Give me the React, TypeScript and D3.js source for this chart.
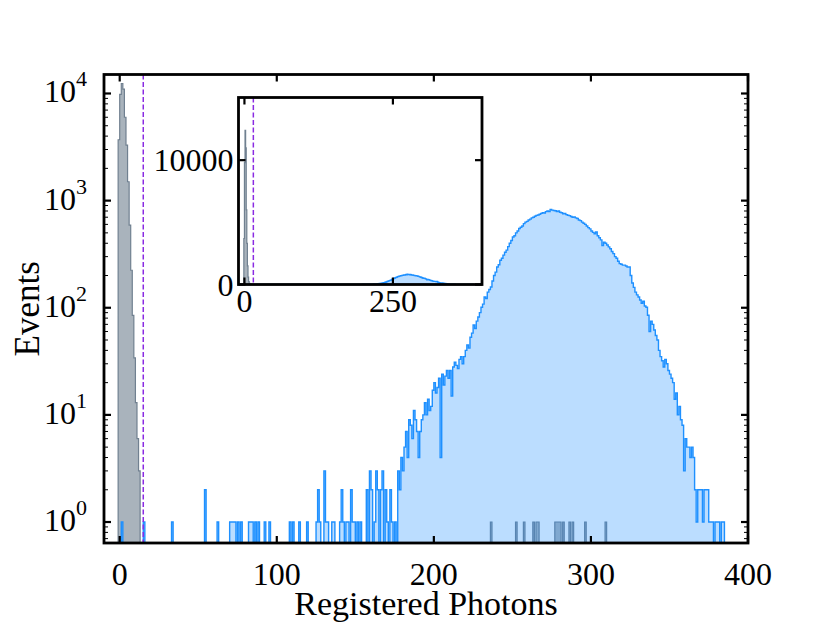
import React from 'react';
import * as d3 from 'd3';

const W = 830;
const H = 623;

// Noise (gray) histogram: integer bins [k, k+1)
const grayBins = [-1, 0, 1, 2, 3, 4, 5, 6, 7, 8, 9, 10, 11, 12,
  236, 252, 257, 263, 265, 266, 277, 278, 279, 280, 282, 286, 288, 296, 309];
const grayCounts = [3700, 9800, 12400, 11000, 6000, 3300, 1500, 590, 224, 85, 34, 13, 6, 3,
  1, 1, 1, 1, 1, 1, 1, 1, 1, 1, 1, 1, 1, 1, 1];

// Signal (blue) histogram: sparse low-photon bins
const blueSparseBins = [1, 15, 33, 54, 62, 70, 71, 72, 73, 75, 77, 82, 83, 84, 86, 88, 92, 95,
  108, 110, 114, 119, 125, 126, 127, 130, 131, 132, 135, 136, 140, 141, 142, 144, 145, 147,
  148, 149, 151, 153];
const blueSparseCounts = [1, 1, 1, 2, 1, 1, 1, 1, 1, 1, 1, 1, 1, 1, 1, 1, 1, 1,
  1, 1, 1, 1, 1, 2, 1, 3, 1, 1, 1, 1, 1, 2, 1, 1, 1, 2,
  1, 1, 1, 1];
// Signal (blue) histogram: dense part, bins 155 .. 384
const blueDenseStart = 155;
const blueDenseCounts = [
  0, 0, 2, 0, 3, 2, 0, 1, 3, 2,
  0, 2, 3, 0, 2, 1, 0, 2, 1, 0,
  1, 0, 3, 2, 4, 3, 5, 7, 4, 9,
  8, 6, 11, 9, 7, 4, 7, 9, 10, 13,
  10, 14, 11, 12, 17, 20, 16, 18, 22, 4,
  24, 19, 23, 26, 22, 26, 15, 28, 31, 29,
  27, 33, 35, 30, 35, 40, 45, 42, 53, 58,
  69, 64, 75, 82, 90, 101, 108, 126, 122, 140,
  148, 156, 178, 200, 215, 240, 252, 278, 290, 310,
  330, 345, 372, 400, 425, 457, 470, 500, 520, 550,
  565, 580, 610, 630, 640, 660, 672, 690, 700, 715,
  728, 735, 745, 760, 770, 765, 790, 800, 790, 825,
  815, 810, 805, 790, 800, 780, 770, 755, 760, 740,
  730, 725, 710, 700, 705, 690, 680, 660, 650, 630,
  615, 600, 580, 560, 545, 520, 505, 490, 510, 470,
  450, 430, 380, 410, 400, 385, 370, 355, 335, 320,
  300, 290, 272, 258, 255, 250, 250, 245, 240, 240,
  200, 170, 155, 140, 132, 126, 118, 110, 115, 104,
  101, 85, 60, 75, 70, 62, 55, 50, 40, 35,
  32, 28, 33, 30, 26, 24, 22, 20, 14, 16,
  10, 12, 9, 8, 3, 6, 5, 5, 4, 5,
  4, 2, 1, 2, 2, 2, 1, 2, 2, 2,
  1, 1, 1, 0, 1, 1, 1, 0, 1, 1,
];

const threshold = 15;
const xTicks = [0, 100, 200, 300, 400];
const yTickValues = [1, 10, 100, 1000, 10000];
const yTickExponents = ['0', '1', '2', '3', '4'];
const insetXTicks = [0, 250];
const insetYTicks = [0, 10000];

const FONT = "'Liberation Serif', 'Times New Roman', 'DejaVu Serif', serif";
const GRAY = '#708090';
const BLUE = '#1e90ff';
const PURPLE = '#8a2be2';

const blueBins = [...blueSparseBins, ...blueDenseCounts.map((_, i) => blueDenseStart + i)];
const blueCounts = [...blueSparseCounts, ...blueDenseCounts];

function stepPath(bins: number[], counts: number[], xs: (v: number) => number,
  ys: (v: number) => number, floor: number): string {
  const m = new Map<number, number>();
  bins.forEach((b, i) => m.set(b, (m.get(b) || 0) + counts[i]));
  const lo = d3.min(bins) as number;
  const hi = d3.max(bins) as number;
  let p = `M${xs(lo)},${floor}`;
  for (let b = lo; b <= hi; b++) {
    const c = m.get(b) || 0;
    const yy = c > 0 ? ys(c) : floor;
    p += `L${xs(b)},${yy}L${xs(b + 1)},${yy}`;
  }
  p += `L${xs(hi + 1)},${floor}Z`;
  return p;
}

export default function App() {
  const L = 104, R = 748, T = 74.5, B = 543;
  const x = d3.scaleLinear().domain([-10, 400]).range([L, R]);
  const y = d3.scaleLog().domain([0.637, 15040]).range([B, T]);

  const iL = 238.5, iR = 482, iT = 97.5, iB = 284.5;
  const xi = d3.scaleLinear().domain([-10, 400]).range([iL, iR]);
  const yi = d3.scaleLinear().domain([0, 15040]).range([iB, iT]);

  const minorTicks: number[] = [];
  for (let d = -1; d <= 4; d++) {
    for (let k = 2; k <= 9; k++) {
      const v = k * Math.pow(10, d);
      if (v > 0.637 && v < 15040) minorTicks.push(v);
    }
  }

  const grayMain = stepPath(grayBins, grayCounts, x, y, B + 40);
  const blueMain = stepPath(blueBins, blueCounts, x, y, B + 40);
  const grayInset = stepPath(grayBins, grayCounts, xi, yi, iB);
  const blueInset = stepPath(blueBins, blueCounts, xi, yi, iB);

  return (
    <svg width={W} height={H} style={{ position: 'absolute', left: 0, top: 0, background: '#fff' }}
      fontFamily={FONT}>
      <defs>
        <clipPath id="mainClip"><rect x={L} y={T} width={R - L} height={B - T} /></clipPath>
        <clipPath id="insetClip"><rect x={iL} y={iT} width={iR - iL} height={iB - iT} /></clipPath>
      </defs>
      <rect x={0} y={0} width={W} height={H} fill="#fff" />

      {/* main plot */}
      <g clipPath="url(#mainClip)">
        <path d={grayMain} fill={GRAY} fillOpacity={0.6} stroke={GRAY} strokeWidth={1.2} />
        <path d={blueMain} fill={BLUE} fillOpacity={0.3} stroke={BLUE} strokeWidth={1.4} />
        <line x1={x(threshold)} x2={x(threshold)} y1={T} y2={B} stroke={PURPLE}
          strokeWidth={1.5} strokeDasharray="5,2.5" />
      </g>

      {/* main ticks */}
      <g stroke="#000">
        {xTicks.map(t => (
          <g key={'xt' + t}>
            <line x1={x(t)} x2={x(t)} y1={B} y2={B - 7} strokeWidth={2.2} />
            <line x1={x(t)} x2={x(t)} y1={T} y2={T + 7} strokeWidth={2.2} />
          </g>
        ))}
        {yTickValues.map(t => (
          <g key={'yt' + t}>
            <line x1={L} x2={L + 7} y1={y(t)} y2={y(t)} strokeWidth={2.2} />
            <line x1={R} x2={R - 7} y1={y(t)} y2={y(t)} strokeWidth={2.2} />
          </g>
        ))}
        {minorTicks.map(t => (
          <g key={'ym' + t}>
            <line x1={L} x2={L + 4} y1={y(t)} y2={y(t)} strokeWidth={1} />
            <line x1={R} x2={R - 4} y1={y(t)} y2={y(t)} strokeWidth={1} />
          </g>
        ))}
      </g>
      <rect x={L} y={T} width={R - L} height={B - T} fill="none" stroke="#000" strokeWidth={2.8} />

      {/* main tick labels */}
      {xTicks.map(t => (
        <text key={'xl' + t} x={x(t)} y={585} fontSize={32} textAnchor="middle" fill="#000">{t}</text>
      ))}
      {yTickValues.map((t, i) => (
        <text key={'yl' + t} x={87} y={y(t) + 9} fontSize={32} textAnchor="end" fill="#000">
          <tspan>10</tspan>
          <tspan fontSize={22} dy={-16}>{yTickExponents[i]}</tspan>
        </text>
      ))}

      {/* axis labels */}
      <text x={(L + R) / 2} y={615} fontSize={34} textAnchor="middle" fill="#000">Registered Photons</text>
      <text transform={`translate(39,${(T + B) / 2}) rotate(-90)`} fontSize={35} textAnchor="middle"
        fill="#000">Events</text>

      {/* inset */}
      <rect x={iL} y={iT} width={iR - iL} height={iB - iT} fill="#fff" />
      <g clipPath="url(#insetClip)">
        <path d={grayInset} fill={GRAY} fillOpacity={0.6} stroke={GRAY} strokeWidth={1.2} />
        <path d={blueInset} fill={BLUE} fillOpacity={0.3} stroke={BLUE} strokeWidth={1.4} />
        <line x1={xi(threshold)} x2={xi(threshold)} y1={iT} y2={iB} stroke={PURPLE}
          strokeWidth={1.5} strokeDasharray="5,2.5" />
      </g>
      <g stroke="#000">
        {insetXTicks.map(t => (
          <g key={'ixt' + t}>
            <line x1={xi(t)} x2={xi(t)} y1={iB} y2={iB - 7} strokeWidth={2.2} />
            <line x1={xi(t)} x2={xi(t)} y1={iT} y2={iT + 7} strokeWidth={2.2} />
          </g>
        ))}
        {insetYTicks.map(t => (
          <g key={'iyt' + t}>
            <line x1={iL} x2={iL + 7} y1={yi(t)} y2={yi(t)} strokeWidth={2.2} />
            <line x1={iR} x2={iR - 7} y1={yi(t)} y2={yi(t)} strokeWidth={2.2} />
          </g>
        ))}
      </g>
      <rect x={iL} y={iT} width={iR - iL} height={iB - iT} fill="none" stroke="#000" strokeWidth={2.8} />
      {insetXTicks.map(t => (
        <text key={'ixl' + t} x={xi(t)} y={iB + 27} fontSize={32} textAnchor="middle" fill="#000">{t}</text>
      ))}
      {insetYTicks.map(t => (
        <text key={'iyl' + t} x={iL - 5} y={yi(t) + 11} fontSize={32} textAnchor="end" fill="#000">{t}</text>
      ))}
    </svg>
  );
}
